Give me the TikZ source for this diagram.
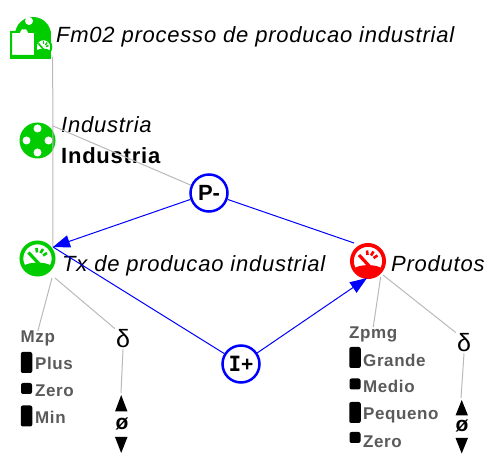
\documentclass[tikz,border=0pt]{standalone}
\usepackage{fontspec}
\setmainfont{Liberation Sans}[LetterSpace=3.5]
\newfontfamily\monofnt{DejaVu Sans Mono}
\newfontfamily\plainfnt{Liberation Sans}
\usetikzlibrary{arrows.meta}
\definecolor{icgreen}{RGB}{0,204,0}
\definecolor{icred}{RGB}{255,0,0}
\definecolor{lnblue}{RGB}{0,0,255}
\definecolor{lngray}{RGB}{185,185,185}
\definecolor{qgray}{RGB}{90,90,90}
\newcommand\drawgauge[2]{%
  \begin{scope}[shift={(#1)}]
    \fill[white] (0,0) circle (16pt);
    \fill[#2] (-13.5,7.5) .. controls (-10,3) and (10,3) .. (13.5,7.5) -- (13.5,10)
       .. controls (10,17.5) and (-10,17.5) .. (-13.5,10) -- cycle;
    \draw[#2, line width=3.8pt] (0,0) circle (16.1pt);
    \draw[#2, line width=3.2pt] (-9,-6) -- (4,8);
    \draw[#2, line width=2.6pt] (-0.5,-6) -- (-1,-10.5);
    \draw[#2, line width=2.6pt] (3,-5.5) -- (5.5,-9.5);
    \draw[#2, line width=2.6pt] (5.5,-3) -- (9.5,-5.5);
  \end{scope}}
\tikzset{
  iconbox/.style={circle, minimum size=36pt, inner sep=0},
  lbl/.style={anchor=base west, inner sep=0, font=\fontsize{22}{26}\selectfont\itshape},
  lblb/.style={anchor=base west, inner sep=0, font=\fontsize{22}{26}\selectfont\bfseries},
  qs/.style={anchor=base west, inner sep=0, text=qgray, font=\fontsize{17}{20}\selectfont\bfseries},
  tallmk/.style={fill=black, rounded corners=2pt, minimum width=11.5pt, minimum height=21pt, inner sep=0},
  smallmk/.style={fill=black, rounded corners=2pt, minimum width=11pt, minimum height=11pt, inner sep=0},
  infl/.style={circle, draw=lnblue, line width=2.5pt, fill=white, minimum size=37pt, inner sep=0},
  blueln/.style={draw=lnblue, line width=1pt},
  grayln/.style={draw=lngray, line width=1pt},
  tip/.style={-{Triangle[length=17pt,width=12.5pt]}},
  delta/.style={inner sep=1pt, font=\fontsize{25}{28}\selectfont},
  empt/.style={inner sep=0, font=\fontsize{21}{24}\selectfont\bfseries},
}
\begin{document}
\begin{tikzpicture}[x=1pt,y=-1pt]
\useasboundingbox (0,0) rectangle (485,454);

% top model fragment icon
\node[inner sep=0, minimum width=42pt, minimum height=44pt] (ticon) at (30,37) {};
\fill[icgreen] (33,35) circle (18pt);
\fill[white] (29,21) circle (4pt);
\fill[icgreen] (35,31) rectangle (51,59);
\filldraw[fill=white, draw=icgreen, line width=2pt] (11,32) -- (19,32) -- (21,28.5) -- (27,28.5) -- (29,32) -- (35,32) -- (35,56) -- (11,56) -- cycle;
\fill[icgreen] (10,55) rectangle (51,59);
\fill[white] (43.5,47) circle (7.5pt);
\fill[icgreen] (37,50.5) .. controls (39,48) and (48,48) .. (50,50.5) -- (50,52)
   .. controls (48,56) and (39,56) .. (37,52) -- cycle;
\draw[icgreen, line width=2pt] (43.5,47) circle (7.8pt);
\draw[icgreen, line width=1.6pt] (38.5,43.5) -- (44,50);
\draw[icgreen, line width=1.4pt] (43.5,44.5) -- (43.5,41.5);
\draw[icgreen, line width=1.4pt] (45.5,45) -- (47,42.5);
\draw[icgreen, line width=1.4pt] (46,46.5) -- (48.5,45.5);
\node[lbl] (title) at (56,43) {Fm02 processo de producao industrial};

% entities / quantities
\node[iconbox, fill=icgreen] (ind) at (37.5,140.5) {};
\begin{scope}[shift={(ind.center)}]
  \fill[white] (0,-12) circle (4pt);
  \fill[white] (-11,0) circle (4pt);
  \fill[white] (11,0) circle (4pt);
  \fill[white] (0,12) circle (4pt);
\end{scope}
\node[lbl] (indt1) at (61,133) {Industria};
\node[lblb] (indt2) at (61,164) {Industria};

\node[iconbox] (tx) at (37.5,258.5) {};
\drawgauge{tx.center}{icgreen}
\node[lbl] (txt) at (62,272) {Tx de producao industrial};

\node[iconbox] (pr) at (368,261) {};
\drawgauge{pr.center}{icred}
\node[lbl] (prt) at (391,272) {Produtos};

% influences
\node[infl, font=\plainfnt\fontsize{22}{26}\selectfont\bfseries] (pm) at (209,193) {P-};
\node[infl, font=\plainfnt\fontsize{21}{24}\selectfont] (ip) at (241,364) {{\monofnt\bfseries I}\textbf{+}};

% connection points
\coordinate (ttop) at (52.7,57);
\coordinate (txc) at (53,247);
\coordinate (indc) at (53,126);
\coordinate (prin) at (354,243);
\coordinate (prarr) at (367,278);

\draw[grayln] (ttop) -- (txc);
\draw[grayln] (indc) -- (pm);
\draw[blueln, tip] (pm) -- (txc);
\draw[blueln] (pm) -- (prin);
\draw[blueln] (txc) -- (ip);
\draw[blueln, tip] (ip) -- (prarr);

% left quantity space
\node[qs] (mzp) at (20.5,343) {Mzp};
\node[tallmk] (mk1) at (26.5,362.5) {};
\node[qs] (qp1) at (35,370) {Plus};
\node[smallmk] (mk2) at (26.5,388.5) {};
\node[qs] (qp2) at (35,397) {Zero};
\node[tallmk] (mk3) at (26.5,416) {};
\node[qs] (qp3) at (35,424) {Min};

\node[delta] (dl) at (123,339) {δ};
\coordinate (dltop) at (121,393);
\fill (115,411.5) -- (127.5,411.5) -- (121.2,395) -- cycle;
\node[empt] (el) at (122,424) {ø};
\fill (115,437) -- (127.5,437) -- (121.2,453) -- cycle;

\coordinate (txb1) at (52,278);
\coordinate (txb2) at (55,278);
\draw[grayln] (txb1) -- (mzp.north);
\draw[grayln] (txb2) -- (dl.north west);
\draw[grayln] (dl.south) -- (dltop);

% right quantity space
\node[qs] (zpmg) at (349,339) {Zpmg};
\node[tallmk] (rk1) at (355,357.5) {};
\node[qs] (rq1) at (363,367) {Grande};
\node[smallmk] (rk2) at (355,384) {};
\node[qs] (rq2) at (363,393) {Medio};
\node[tallmk] (rk3) at (355,412.5) {};
\node[qs] (rq3) at (363,420) {Pequeno};
\node[smallmk] (rk4) at (355,437.5) {};
\node[qs] (rq4) at (363,447) {Zero};

\node[delta] (dr) at (464,343) {δ};
\coordinate (drtop) at (461,398);
\fill (455.5,415.5) -- (468,415.5) -- (461.7,400) -- cycle;
\node[empt] (er) at (462,426) {ø};
\fill (455.5,438) -- (468,438) -- (461.7,453.5) -- cycle;

\coordinate (prb1) at (380.7,276.7);
\coordinate (prb2) at (383,275);
\draw[grayln] (prb1) -- (zpmg.north);
\draw[grayln] (prb2) -- (dr.north west);
\draw[grayln] (dr.south) -- (drtop);
\end{tikzpicture}
\end{document}
